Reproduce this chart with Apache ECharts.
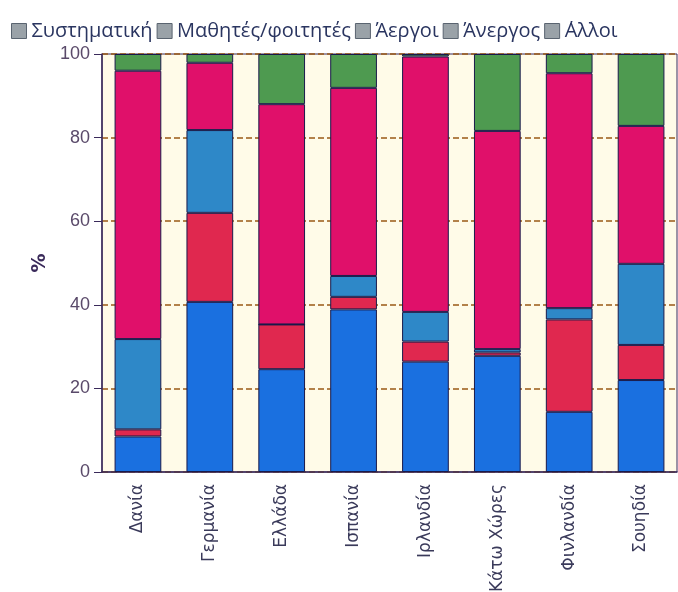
<!DOCTYPE html>
<html>
<head>
<meta charset="utf-8">
<script src="https://cdn.jsdelivr.net/npm/echarts@6/dist/echarts.min.js"></script>
<style>
  html, body { margin: 0; padding: 0; background: #ffffff; }
  #chart { width: 678px; height: 592px; }
</style>
</head>
<body>
<div id="chart"></div>
<script>
const countries = ['Δανία', 'Γερμανία', 'Ελλάδα', 'Ισπανία', 'Ιρλανδία', 'Κάτω Χώρες', 'Φινλανδία', 'Σουηδία'];
const seriesNames = ['Συστηματική', 'Μαθητές/φοιτητές', 'Άεργοι', 'Άνεργος', '΄Αλλοι'];

const systematiki = [8.5, 40.7, 24.6, 38.9, 26.4, 27.8, 14.4, 22.0];
const mathites = [1.7, 21.3, 10.7, 3.0, 4.8, 0.8, 22.1, 8.4];
const aergoi = [21.6, 19.8, 0, 5.0, 7.1, 0.8, 2.7, 19.4];
const anergos = [64.2, 16.1, 52.7, 45.0, 61.1, 52.2, 56.2, 33.0];
const alloi = [4.0, 2.1, 12.0, 8.1, 0.6, 18.4, 4.6, 17.2];

const yTicks = [0, 20, 40, 60, 80, 100];

const colors = ['#1a70e0', '#e0284f', '#2e88c8', '#e0106a', '#4e9a50'];
const allValues = [systematiki, mathites, aergoi, anergos, alloi];

const chart = echarts.init(document.getElementById('chart'));

const option = {
  backgroundColor: '#ffffff',
  animation: false,
  legend: {
    left: 11,
    top: 21,
    icon: 'rect',
    itemWidth: 15,
    itemHeight: 15,
    itemGap: 4,
    padding: 0,
    textStyle: {
      fontFamily: 'Open Sans',
      fontSize: 20,
      color: '#2a3560',
      padding: [0, 0, 0, 0],
    },
    itemStyle: { color: '#9aa2a8', borderColor: '#5a6470', borderWidth: 1 },
    data: seriesNames,
  },
  grid: {
    left: 102,
    right: 1,
    top: 54,
    bottom: 120,
    outerBoundsMode: 'none',
    show: true,
    backgroundColor: '#fffbe8',
    borderColor: '#3a2a5a',
    borderWidth: 1,
  },
  xAxis: {
    type: 'category',
    data: countries,
    axisLine: { lineStyle: { color: '#3a2a5a', width: 1.5 } },
    axisTick: { alignWithLabel: true, length: 5, lineStyle: { color: '#3a2a5a' } },
    axisLabel: {
      rotate: 90,
      fontFamily: 'DejaVu Sans',
      fontSize: 17,
      color: '#3a3a5a',
      margin: 12,
    },
  },
  yAxis: {
    type: 'value',
    min: 0,
    max: 100,
    interval: 20,
    name: '%',
    nameLocation: 'middle',
    nameRotate: 90,
    nameGap: 52,
    nameTextStyle: { fontFamily: 'DejaVu Sans', fontSize: 19, fontWeight: 'bold', color: '#3a2a5a' },
    axisLine: { show: true, lineStyle: { color: '#3a2a5a', width: 1.5 } },
    axisTick: { show: true, length: 8, lineStyle: { color: '#3a2a5a' } },
    axisLabel: {
      fontFamily: 'Liberation Sans',
      fontSize: 18,
      color: '#5a4a6a',
      margin: 12,
      formatter: (v) => (yTicks.includes(v) ? String(v) : ''),
    },
    splitLine: { lineStyle: { color: '#9a5a14', type: [6, 3], width: 1.5 } },
  },
  series: allValues.map((vals, i) => ({
    name: seriesNames[i],
    type: 'bar',
    stack: 'total',
    data: vals,
    barCategoryGap: '35%',
    itemStyle: { color: colors[i], borderColor: '#1a1a4a', borderWidth: 1 },
  })),
};

chart.setOption(option);
</script>
</body>
</html>
